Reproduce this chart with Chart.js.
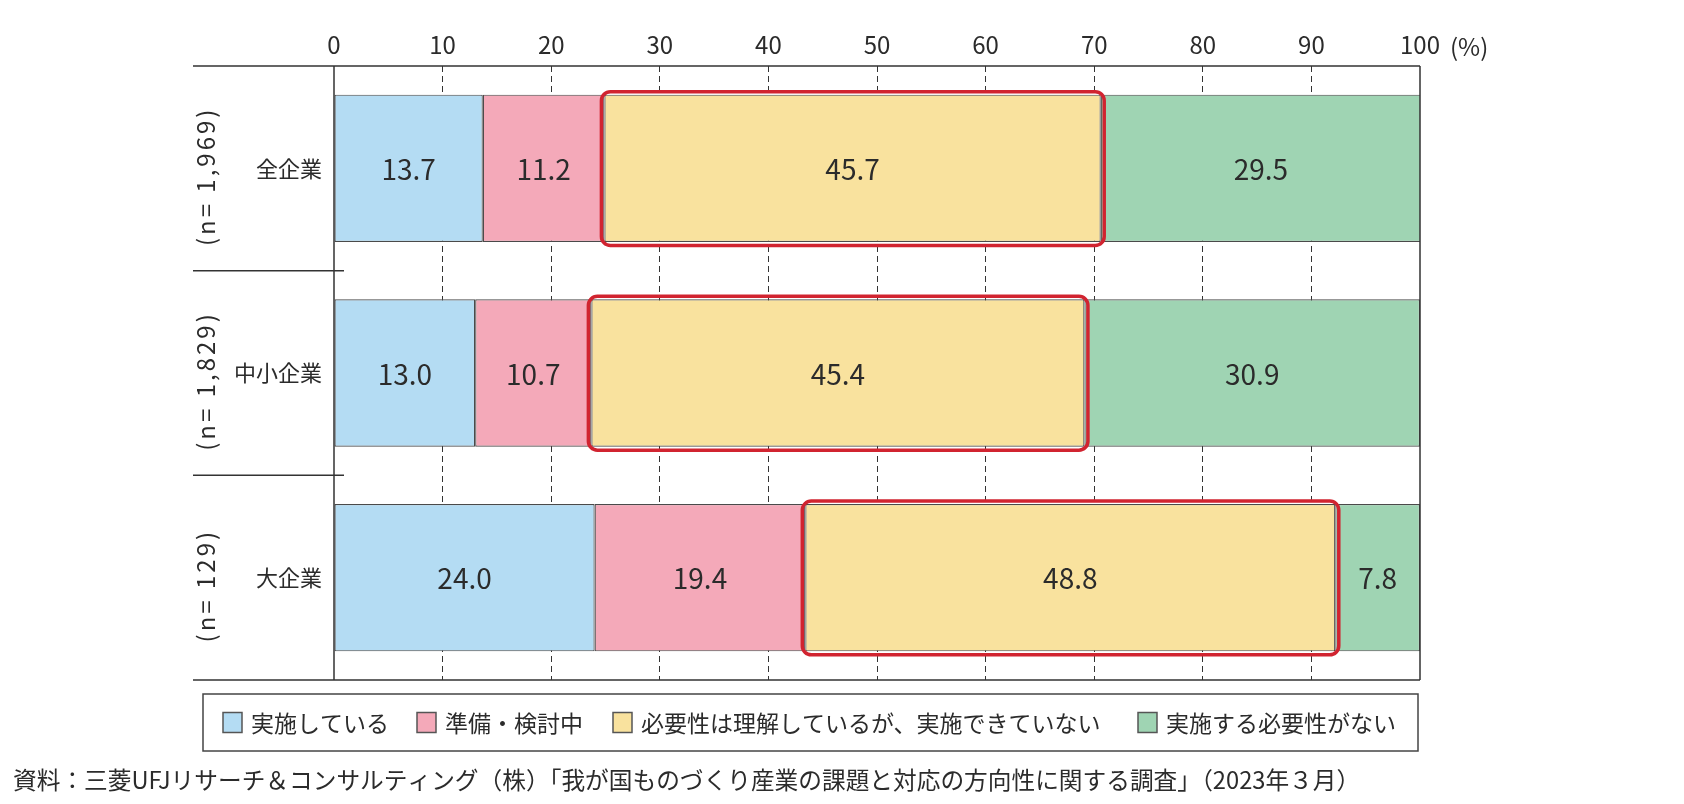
<!DOCTYPE html>
<html lang="ja">
<head>
<meta charset="utf-8">
<script src="https://cdn.jsdelivr.net/npm/chart.js@4.4.0/dist/chart.umd.min.js"></script>
<style>
  html, body { margin: 0; padding: 0; background: #fff; }
  #wrap { width: 1684px; height: 804px; position: relative; }
</style>
</head>
<body>
<div id="wrap"><canvas id="chart" width="1684" height="804"></canvas></div>
<script>
// ===== Data =====
const categories = ["全企業", "中小企業", "大企業"];
const sampleSizes = ["(n= 1,969)", "(n= 1,829)", "(n= 129)"];
const seriesNames = ["実施している", "準備・検討中", "必要性は理解しているが、実施できていない", "実施する必要性がない"];
const implemented = [13.7, 13.0, 24.0];
const preparing = [11.2, 10.7, 19.4];
const understandNotDone = [45.7, 45.4, 48.8];
const notNeeded = [29.5, 30.9, 7.8];
const seriesColors = ["#b4dcf3", "#f4a9b9", "#f9e29e", "#9fd4b3"];
const sourceNote = "資料：三菱UFJリサーチ＆コンサルティング（株）「我が国ものづくり産業の課題と対応の方向性に関する調査」（2023年３月）";

// ===== Style constants =====
const FONT = '"Noto Sans CJK JP", "Noto Sans", sans-serif';
const INK = "#2b2b2b";
const LINE = "#333";
const FRAME_LEFT = 193;        // left end of the outer horizontal rules
const LEGEND_BOX = { l: 203, t: 694, r: 1418, b: 751 };
const LEGEND_X = [223, 417, 613, 1138];

// ===== Drawing extras: value labels, red frames, rules, legend, note =====
const decorPlugin = {
  id: "decor",
  afterDatasetsDraw(chart) {
    const ctx = chart.ctx;
    ctx.save();

    // value labels in the middle of every segment
    ctx.font = `28px ${FONT}`;
    ctx.fillStyle = INK;
    ctx.textAlign = "center";
    ctx.textBaseline = "middle";
    chart.data.datasets.forEach((ds, di) => {
      chart.getDatasetMeta(di).data.forEach((bar, i) => {
        ctx.fillText(ds.data[i].toFixed(1), (bar.x + bar.base) / 2, bar.y + 1);
      });
    });

    // red rounded frame round the "understand but not done" segment
    ctx.strokeStyle = "#d12430";
    ctx.lineWidth = 3.5;
    chart.getDatasetMeta(2).data.forEach(bar => {
      const l = Math.min(bar.x, bar.base) - 3;
      const r = Math.max(bar.x, bar.base) + 3.5;
      const t = bar.y - bar.height / 2 - 3;
      const b = bar.y + bar.height / 2 + 3.5;
      ctx.beginPath();
      ctx.roundRect(l, t, r - l, b - t, 9);
      ctx.stroke();
    });
    ctx.restore();
  },
  afterDraw(chart) {
    const ctx = chart.ctx;
    const area = chart.chartArea;
    const xs = chart.scales.x;
    const ys = chart.scales.y;
    ctx.save();

    // frame
    ctx.strokeStyle = LINE;
    ctx.lineWidth = 1.5;
    ctx.beginPath();
    ctx.moveTo(FRAME_LEFT, area.top); ctx.lineTo(area.right, area.top);
    ctx.moveTo(FRAME_LEFT, area.bottom); ctx.lineTo(area.right, area.bottom);
    ctx.moveTo(area.left, area.top); ctx.lineTo(area.left, area.bottom);
    ctx.moveTo(area.right, area.top); ctx.lineTo(area.right, area.bottom);
    // separators between the groups (label area only)
    for (let i = 0; i < categories.length - 1; i++) {
      const yy = ys.getPixelForValue(i + 0.5);
      ctx.moveTo(FRAME_LEFT, yy); ctx.lineTo(area.left + 10, yy);
    }
    ctx.stroke();

    // sample size labels, rotated
    ctx.fillStyle = INK;
    ctx.font = `24px ${FONT}`;
    ctx.textAlign = "center";
    ctx.textBaseline = "middle";
    sampleSizes.forEach((txt, i) => {
      ctx.save();
      ctx.letterSpacing = "3px";
      ctx.translate(206, ys.getPixelForValue(i) + 8);
      ctx.rotate(-Math.PI / 2);
      ctx.fillText(txt, 0, 0);
      ctx.restore();
    });

    // unit after the last tick
    ctx.font = `24px ${FONT}`;
    ctx.textAlign = "left";
    ctx.fillText("(%)", xs.getPixelForValue(100) + 30, 47);

    // legend
    ctx.lineWidth = 1.5;
    ctx.strokeStyle = "#444";
    ctx.strokeRect(LEGEND_BOX.l, LEGEND_BOX.t, LEGEND_BOX.r - LEGEND_BOX.l, LEGEND_BOX.b - LEGEND_BOX.t);
    const ly = (LEGEND_BOX.t + LEGEND_BOX.b) / 2;
    ctx.font = `23px ${FONT}`;
    chart.data.datasets.forEach((ds, i) => {
      const sx = LEGEND_X[i];
      ctx.fillStyle = ds.backgroundColor;
      ctx.fillRect(sx, ly - 10, 19, 20);
      ctx.strokeStyle = "#555";
      ctx.strokeRect(sx, ly - 10, 19, 20);
      ctx.fillStyle = INK;
      ctx.fillText(ds.label, sx + 28, ly + 1);
    });

    // source note
    ctx.font = `23.7px ${FONT}`;
    ctx.fillText(sourceNote, 13, 780);
    ctx.restore();
  }
};

// ===== Chart =====
const seriesValues = [implemented, preparing, understandNotDone, notNeeded];

new Chart(document.getElementById("chart"), {
  type: "bar",
  data: {
    labels: categories,
    datasets: seriesValues.map((vals, i) => ({
      label: seriesNames[i],
      data: vals,
      backgroundColor: seriesColors[i],
      borderColor: "#4a4a4a",
      borderWidth: 1.2,
      borderSkipped: false,
      categoryPercentage: 0.72,
      barPercentage: 1.0
    }))
  },
  options: {
    indexAxis: "y",
    responsive: false,
    animation: false,
    layout: { padding: { left: 0, right: 264, top: 0, bottom: 124 } },
    plugins: { legend: { display: false }, tooltip: { enabled: false } },
    scales: {
      x: {
        position: "top",
        stacked: true,
        min: 0,
        max: 100,
        afterFit: s => { s.height = 66; },
        ticks: { stepSize: 10, padding: 7, color: INK, font: { family: FONT, size: 24 } },
        grid: {
          drawTicks: false,
          lineWidth: 1,
          color: c => (c.tick && (c.tick.value === 0 || c.tick.value === 100)) ? "rgba(0,0,0,0)" : "#333",
          borderDash: [6, 4]
        },
        border: { display: false, dash: [6, 4] }
      },
      y: {
        stacked: true,
        afterFit: s => { s.width = 334; },
        ticks: { padding: 12, color: INK, font: { family: FONT, size: 22 } },
        grid: { display: false, drawTicks: false },
        border: { display: false }
      }
    }
  },
  plugins: [decorPlugin]
});
</script>
</body>
</html>
